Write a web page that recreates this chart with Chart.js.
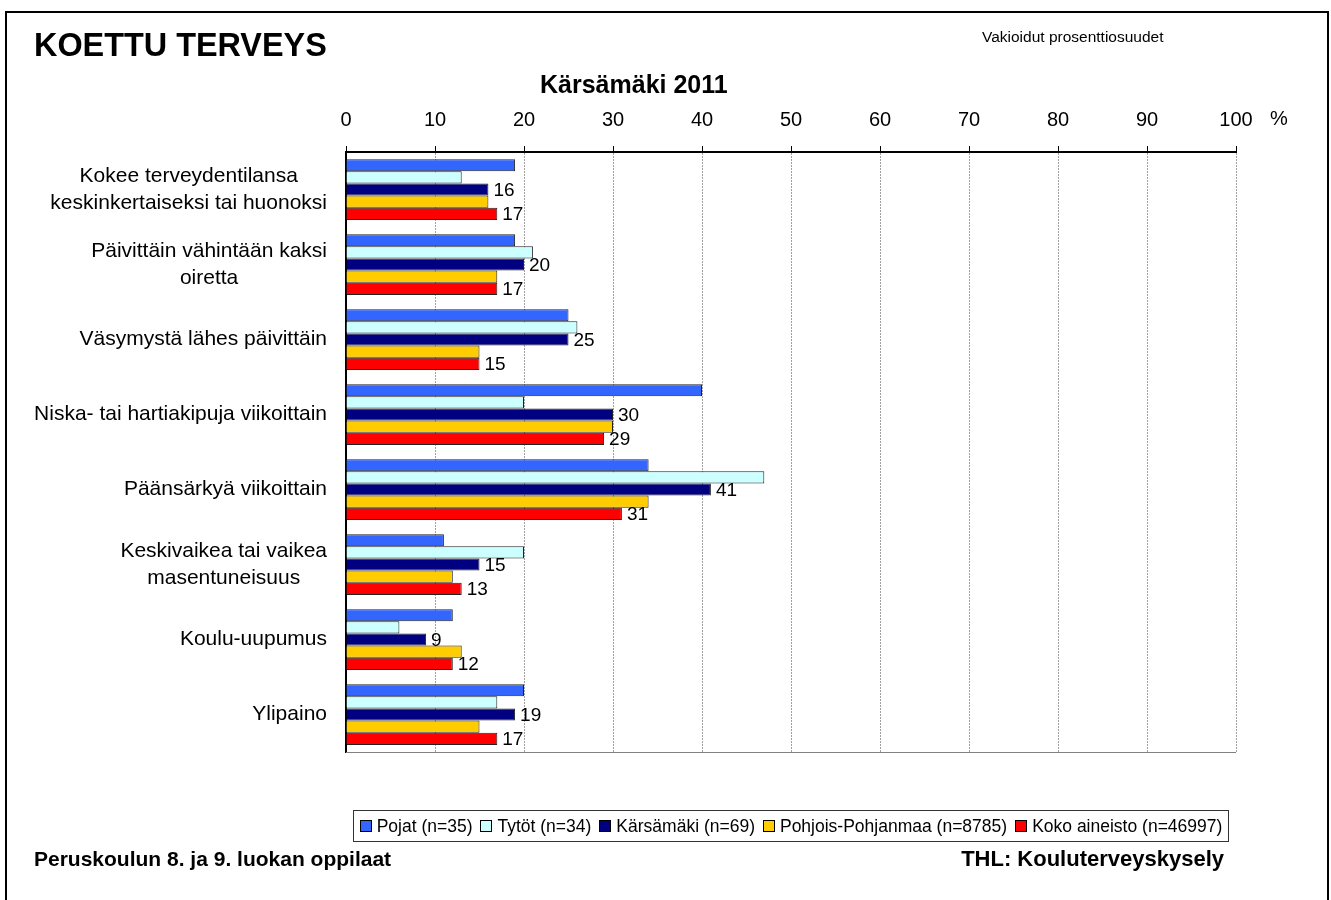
<!DOCTYPE html>
<html><head><meta charset="utf-8">
<script src="https://cdn.jsdelivr.net/npm/chart.js@4"></script>
<style>
html,body{margin:0;padding:0;background:#fff;}
#wrap{position:relative;width:1331px;height:900px;overflow:hidden;font-family:"Liberation Sans",Arial,sans-serif;background:#fff;}
#c{position:absolute;left:0;top:0;}
.t{position:absolute;white-space:nowrap;color:#000;line-height:1;}
#frame{position:absolute;left:5px;top:11px;width:1320px;height:920px;border:2px solid #000;border-bottom:none;pointer-events:none;}
#legend{position:absolute;left:353px;top:810px;width:876px;height:32px;box-sizing:border-box;border:1px solid #333;display:flex;align-items:center;justify-content:center;font-size:17.5px;white-space:nowrap;}
#legend .it{display:flex;align-items:center;margin:0 4px;}
#legend .sw{width:10px;height:10px;border:1px solid #000;margin-right:5px;}
</style></head>
<body>
<div id="wrap">
<canvas id="c" width="1331" height="900"></canvas>
<div id="frame"></div>
<div class="t" style="left:34px;top:29px;font-size:32.4px;font-weight:bold;">KOETTU TERVEYS</div>
<div class="t" style="left:982px;top:29px;font-size:15.5px;">Vakioidut prosenttiosuudet</div>
<div class="t" style="left:540px;top:72px;font-size:25px;font-weight:bold;">Kärsämäki 2011</div>
<div class="t" style="left:1270px;top:108px;font-size:20px;">%</div>
<div id="legend"></div>
<div class="t" style="left:34px;top:848px;font-size:21px;font-weight:bold;">Peruskoulun 8. ja 9. luokan oppilaat</div>
<div class="t" style="right:107px;top:848px;font-size:22px;font-weight:bold;">THL: Kouluterveyskysely</div>
</div>
<script>
const categories = [
  ["Kokee terveydentilansa", "keskinkertaiseksi tai huonoksi"],
  ["Päivittäin vähintään kaksi", "oiretta"],
  "Väsymystä lähes päivittäin",
  "Niska- tai hartiakipuja viikoittain",
  "Päänsärkyä viikoittain",
  ["Keskivaikea tai vaikea", "masentuneisuus"],
  "Koulu-uupumus",
  "Ylipaino"
];
const seriesNames = ["Pojat (n=35)", "Tytöt (n=34)", "Kärsämäki (n=69)", "Pohjois-Pohjanmaa (n=8785)", "Koko aineisto (n=46997)"];
const seriesColors = ["#3366FF", "#CCFFFF", "#000080", "#FFCC00", "#FF0000"];
const pojat     = [19, 19, 25, 40, 34, 11, 12, 20];
const tytot     = [13, 21, 26, 20, 47, 20, 6, 17];
const karsamaki = [16, 20, 25, 30, 41, 15, 9, 19];
const pohjois   = [16, 17, 15, 30, 34, 12, 13, 15];
const koko      = [17, 17, 15, 29, 31, 13, 12, 17];
const xTickMin = 0, xTickMax = 100, xTickStep = 10;
const labelledSeries = [2, 4];

const seriesValues = [pojat, tytot, karsamaki, pohjois, koko];
const FONT = '"Liberation Sans", Arial, sans-serif';

// HTML legend
const lg = document.getElementById('legend');
seriesNames.forEach((n, i) => {
  const it = document.createElement('div'); it.className = 'it';
  const sw = document.createElement('div'); sw.className = 'sw'; sw.style.background = seriesColors[i];
  const tx = document.createElement('span'); tx.textContent = n;
  it.appendChild(sw); it.appendChild(tx); lg.appendChild(it);
});

const catLabelPlugin = {
  id: 'catLabels',
  afterDraw(chart) {
    const ctx = chart.ctx, ys = chart.scales.y;
    ctx.save();
    ctx.font = '21px ' + FONT;
    ctx.fillStyle = '#000';
    ctx.textAlign = 'center';
    ctx.textBaseline = 'middle';
    const lineH = 27, rightEdge = 327;
    categories.forEach((c, i) => {
      const lines = Array.isArray(c) ? c : [c];
      const maxW = Math.max(...lines.map(l => ctx.measureText(l).width));
      const cx = rightEdge - maxW / 2;
      const y = ys.getPixelForValue(i);
      lines.forEach((l, j) => {
        ctx.fillText(l, cx, y + (j - (lines.length - 1) / 2) * lineH);
      });
    });
    ctx.restore();
  }
};

const dataLabelPlugin = {
  id: 'dataLabels',
  afterDatasetsDraw(chart) {
    const ctx = chart.ctx;
    ctx.save();
    ctx.font = '19px ' + FONT;
    ctx.fillStyle = '#000';
    ctx.textAlign = 'left';
    ctx.textBaseline = 'middle';
    labelledSeries.forEach(d => {
      const meta = chart.getDatasetMeta(d);
      meta.data.forEach((bar, i) => {
        ctx.fillText(String(seriesValues[d][i]), bar.x + 5, bar.y + 1);
      });
    });
    const a = chart.chartArea;
    ctx.strokeStyle = '#808080';
    ctx.lineWidth = 1;
    ctx.beginPath();
    ctx.moveTo(a.left, a.bottom + 0.5);
    ctx.lineTo(a.right, a.bottom + 0.5);
    ctx.stroke();
    ctx.restore();
  }
};

new Chart(document.getElementById('c'), {
  type: 'bar',
  data: {
    labels: categories.map(c => Array.isArray(c) ? c.join(' ') : c),
    datasets: seriesNames.map((n, i) => ({
      label: n,
      data: seriesValues[i],
      backgroundColor: seriesColors[i],
      borderColor: '#222',
      borderWidth: 1,
      borderSkipped: 'start',
      barPercentage: 1.0,
      categoryPercentage: 0.81
    }))
  },
  options: {
    indexAxis: 'y',
    responsive: false,
    animation: false,
    devicePixelRatio: 1,
    layout: { padding: { left: 346, right: 95, top: 100, bottom: 148 } },
    plugins: { legend: { display: false }, tooltip: { enabled: false }, title: { display: false } },
    scales: {
      x: {
        position: 'top',
        min: xTickMin, max: xTickMax,
        ticks: { stepSize: xTickStep, color: '#000', font: { size: 20, family: FONT }, padding: 14, maxRotation: 0 },
        grid: { color: '#a0a0a0', tickColor: '#000', tickLength: 6, lineWidth: 1 },
        border: { display: true, color: '#000', width: 2, dash: [2, 1] },
        afterFit(s) { s.height = 52; }
      },
      y: {
        ticks: { display: false },
        grid: { display: false },
        border: { display: true, color: '#000', width: 2 },
        afterFit(s) { s.width = 0; }
      }
    }
  },
  plugins: [catLabelPlugin, dataLabelPlugin]
});
</script>
</body></html>
